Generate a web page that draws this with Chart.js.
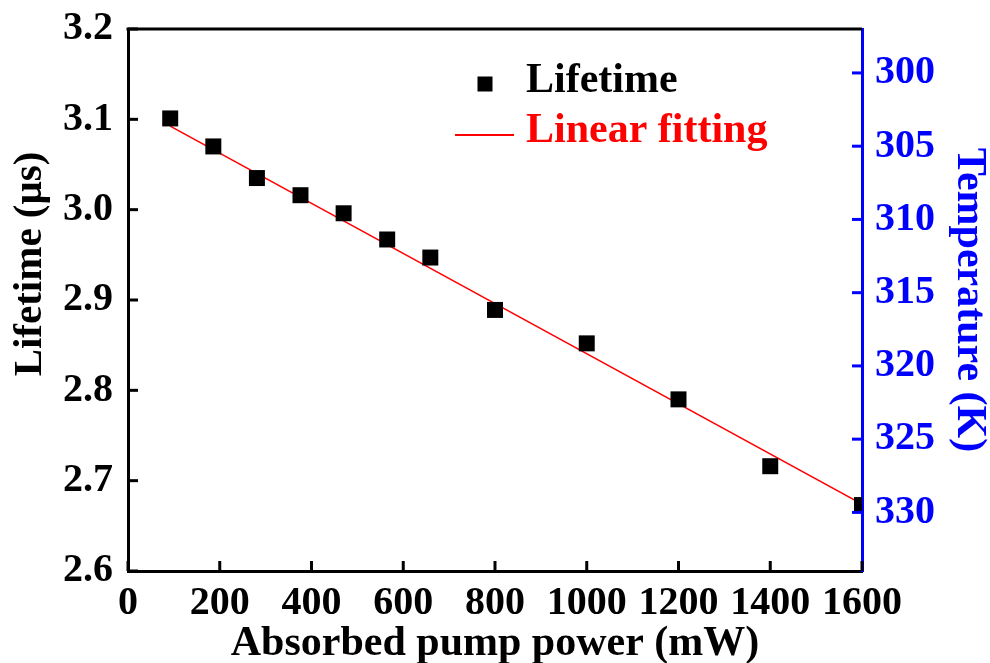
<!DOCTYPE html>
<html>
<head>
<meta charset="utf-8">
<script src="https://cdn.jsdelivr.net/npm/chart.js@4/dist/chart.umd.min.js"></script>
<style>
  html, body { margin: 0; padding: 0; background: #ffffff; }
  #wrap { width: 990px; height: 663px; }
</style>
</head>
<body>
<div id="wrap"><canvas id="c" width="990" height="663"></canvas></div>
<script>
// Measured fluorescence lifetime versus absorbed pump power
const powerMW    = [92, 186, 281, 376, 470, 565, 659, 800, 1000, 1200, 1400, 1600];
const lifetimeUs = [3.101, 3.070, 3.035, 3.016, 2.996, 2.967, 2.947, 2.889, 2.852, 2.790, 2.716, 2.673];

// End points of the least-squares line
const fitPowerMW    = [92, 1600];
const fitLifetimeUs = [3.0925, 2.674];

// Tick values for the three axes
const powerTicks       = [0, 200, 400, 600, 800, 1000, 1200, 1400, 1600];
const lifetimeTicks    = [2.6, 2.7, 2.8, 2.9, 3.0, 3.1, 3.2];
const temperatureTicks = [300, 305, 310, 315, 320, 325, 330];

const SERIF = '"Liberation Serif", "Times New Roman", serif';
const BLUE = '#0000FF';
const RED = '#FF0000';

const toPoints = (xs, ys) => xs.map((x, i) => ({ x: x, y: ys[i] }));
const setTicks = vals => scale => { scale.ticks = vals.map(v => ({ value: v })); };
// fixed axis box size, no extra room for overhanging labels
const fixBox = (w, h) => scale => {
  if (w !== null) scale.width = w;
  if (h !== null) scale.height = h;
  scale.paddingTop = 0; scale.paddingBottom = 0;
  scale.paddingLeft = 0; scale.paddingRight = 0;
};

// Inward tick marks and the top frame line
const frameTicks = {
  id: 'frameTicks',
  afterDatasetsDraw(chart) {
    const { ctx, chartArea: a, scales } = chart;
    const len = 10;
    const seg = (x1, y1, x2, y2) => { ctx.beginPath(); ctx.moveTo(x1, y1); ctx.lineTo(x2, y2); ctx.stroke(); };
    ctx.save();
    ctx.lineWidth = 3;
    ctx.strokeStyle = '#000';
    scales.x.ticks.forEach(t => { const p = scales.x.getPixelForValue(t.value); seg(p, a.bottom, p, a.bottom - len); });
    scales.y.ticks.forEach(t => { const p = scales.y.getPixelForValue(t.value); seg(a.left, p, a.left + len, p); });
    seg(a.left - 1.5, a.top, a.right, a.top);
    ctx.strokeStyle = BLUE;
    scales.y2.ticks.forEach(t => { const p = scales.y2.getPixelForValue(t.value); seg(a.right, p, a.right - len, p); });
    ctx.restore();
  }
};

// Axis titles
const axisTitles = {
  id: 'axisTitles',
  afterDraw(chart) {
    const { ctx, chartArea: a } = chart;
    ctx.save();
    ctx.font = 'bold 42px ' + SERIF;
    ctx.textAlign = 'center';
    ctx.textBaseline = 'alphabetic';
    ctx.fillStyle = '#000';
    ctx.fillText('Absorbed pump power (mW)', (a.left + a.right) / 2, 655);

    ctx.save();
    ctx.font = 'bold 41px ' + SERIF;
    ctx.translate(41, 264);
    ctx.rotate(-Math.PI / 2);
    ctx.fillText('Lifetime (\u03BCs)', 0, 0);
    ctx.restore();

    ctx.save();
    ctx.fillStyle = BLUE;
    ctx.translate(958, (a.top + a.bottom) / 2);
    ctx.rotate(Math.PI / 2);
    ctx.fillText('Temperature (K)', 0, 0);
    ctx.restore();
    ctx.restore();
  }
};

// Legend drawn inside the plot area
const insideLegend = {
  id: 'insideLegend',
  afterDraw(chart) {
    const { ctx } = chart;
    const pts = chart.data.datasets[0];
    const fit = chart.data.datasets[1];
    ctx.save();
    ctx.fillStyle = pts.backgroundColor;
    ctx.fillRect(485 - 7.5, 84 - 7.5, 15, 15);
    ctx.strokeStyle = fit.borderColor;
    ctx.lineWidth = 2;
    ctx.beginPath(); ctx.moveTo(455, 135); ctx.lineTo(514, 135); ctx.stroke();
    ctx.font = 'bold 42px ' + SERIF;
    ctx.textAlign = 'left';
    ctx.textBaseline = 'alphabetic';
    ctx.fillStyle = '#000';
    ctx.fillText(pts.label, 526, 92);
    ctx.fillStyle = RED;
    ctx.fillText(fit.label, 526, 142);
    ctx.restore();
  }
};

new Chart(document.getElementById('c'), {
  type: 'scatter',
  data: {
    datasets: [
      {
        label: 'Lifetime',
        data: toPoints(powerMW, lifetimeUs),
        pointStyle: 'rect',
        pointRadius: 11.3,
        backgroundColor: '#000',
        borderWidth: 0,
        clip: 0,
        yAxisID: 'y'
      },
      {
        type: 'line',
        label: 'Linear fitting',
        data: toPoints(fitPowerMW, fitLifetimeUs),
        borderColor: RED,
        borderWidth: 1.6,
        pointRadius: 0,
        fill: false,
        tension: 0,
        yAxisID: 'y'
      }
    ]
  },
  options: {
    responsive: false,
    devicePixelRatio: 1,
    animation: false,
    layout: { padding: { top: 29, left: 0, right: 0, bottom: 0 } },
    plugins: { legend: { display: false }, tooltip: { enabled: false } },
    scales: {
      x: {
        type: 'linear',
        position: 'bottom',
        min: 0, max: 1600,
        afterBuildTicks: setTicks(powerTicks),
        afterFit: fixBox(null, 92),
        grid: { display: true, drawOnChartArea: false, drawTicks: false },
        border: { display: true, color: '#000', width: 3 },
        ticks: { padding: 9, maxRotation: 0, autoSkip: false, color: '#000',
                 callback: v => String(v),
                 font: { family: SERIF, size: 40, weight: 'bold' } }
      },
      y: {
        type: 'linear',
        position: 'left',
        min: 2.6, max: 3.2,
        afterBuildTicks: setTicks(lifetimeTicks),
        afterFit: fixBox(128, null),
        grid: { display: true, drawOnChartArea: false, drawTicks: false },
        border: { display: true, color: '#000', width: 3 },
        ticks: { padding: 15, color: '#000', autoSkip: false,
                 callback: v => Number(v).toFixed(1),
                 font: { family: SERIF, size: 40, weight: 'bold' } }
      },
      y2: {
        type: 'linear',
        position: 'right',
        reverse: true,
        min: 297, max: 334,
        afterBuildTicks: setTicks(temperatureTicks),
        afterFit: fixBox(128, null),
        grid: { display: true, drawOnChartArea: false, drawTicks: false },
        border: { display: true, color: BLUE, width: 3 },
        ticks: { padding: 13, color: BLUE, autoSkip: false,
                 callback: v => String(v),
                 font: { family: SERIF, size: 40, weight: 'bold' } }
      }
    }
  },
  plugins: [frameTicks, axisTitles, insideLegend]
});
</script>
</body>
</html>
